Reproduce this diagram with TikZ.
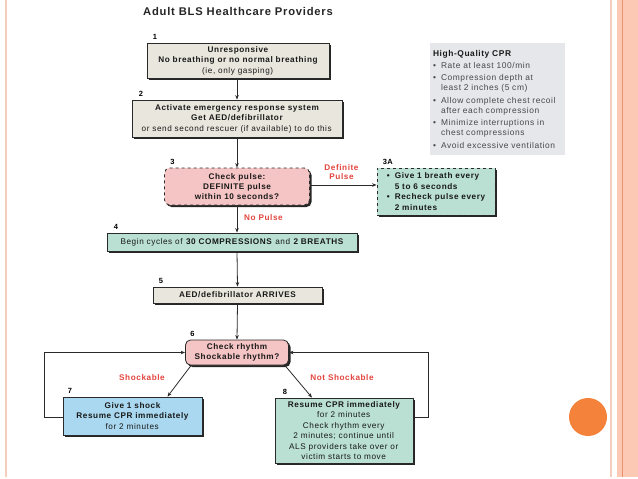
\documentclass[tikz,border=0pt]{standalone}
\usepackage{fontspec}
\setmainfont{Liberation Sans}[LetterSpace=7]
\usetikzlibrary{shadows,arrows.meta}
\definecolor{boxgray}{HTML}{E9E7DD}
\definecolor{boxpink}{HTML}{F5C4C4}
\definecolor{boxteal}{HTML}{B9E0D2}
\definecolor{boxblue}{HTML}{A9D8F0}
\definecolor{hqgray}{HTML}{E5E7EB}
\definecolor{labred}{HTML}{E2453E}
\definecolor{edgecol}{HTML}{2A2A2A}
\definecolor{paleline}{HTML}{F4CDBF}
\definecolor{salmon}{HTML}{FCC9B5}
\definecolor{salmonline}{HTML}{E8926E}
\definecolor{dotorange}{HTML}{F5823A}
\begin{document}
\begin{tikzpicture}[x=1pt,y=-1pt,
  base/.style={draw=edgecol, line width=0.8pt, align=center, inner sep=1pt,
    text=black!90, font=\fontsize{8.2}{10.4}\selectfont\bfseries,
    drop shadow={shadow xshift=2pt, shadow yshift=-2pt, fill=black, opacity=0.85}},
  gbox/.style={base, fill=boxgray},
  pbox/.style={base, fill=boxpink, rounded corners=5pt},
  tbox/.style={base, fill=boxteal},
  bbox/.style={base, fill=boxblue},
  numlab/.style={font=\fontsize{7.5}{9}\selectfont\bfseries, anchor=south west, inner sep=0pt},
  redlab/.style={text=labred, font=\fontsize{8.2}{9.8}\selectfont\bfseries, align=center, inner sep=0pt},
  conn/.style={draw=edgecol, line width=0.8pt, -{Stealth[length=4.5pt,width=3.5pt]}}
]
\useasboundingbox (0,0) rectangle (638,479);
% slide decorations
\fill[salmon] (617,0) rectangle (638,477);
\draw[salmonline, line width=0.8pt] (622,0) -- (622,477);
\draw[paleline, line width=1.6pt] (611,0) -- (611,477);
\draw[paleline, line width=1.6pt] (6,0) -- (6,477);
\fill[dotorange] (588,417) circle (19);
% title
\node[anchor=west, inner sep=0pt, font=\fontsize{11.2}{13}\selectfont\bfseries, text=black!85] (title) at (143,11) {Adult BLS Healthcare Providers};
% boxes
\node[gbox, minimum width=182pt, minimum height=35pt] (b1) at (238,60.5)
  {Unresponsive\\No breathing or no normal breathing\\\textmd{(ie, only gasping)}};
\node[gbox, minimum width=210pt, minimum height=37pt] (b2) at (237,118.5)
  {Activate emergency response system\\Get AED/defibrillator\\\textmd{or send second rescuer (if available) to do this}};
\node[pbox, dashed, minimum width=145pt, minimum height=37pt] (b3) at (237,186.5)
  {Check pulse:\\DEFINITE pulse\\within 10 seconds?};
\node[tbox, dashed, minimum width=118pt, minimum height=47pt, align=left] (b3a) at (436,191.5)
  {\makebox[8pt][l]{•}Give 1 breath every\\\hspace*{8pt}5 to 6 seconds\\\makebox[8pt][l]{•}Recheck pulse every\\\hspace*{8pt}2 minutes};
\node[tbox, minimum width=250pt, minimum height=18pt] (b4) at (232,242)
  {\textmd{Begin cycles of }30 COMPRESSIONS\textmd{ and }2 BREATHS};
\node[gbox, minimum width=169pt, minimum height=16pt] (b5) at (237.5,295)
  {AED/defibrillator ARRIVES};
\node[pbox, minimum width=103pt, minimum height=25pt] (b6) at (237,352.5)
  {Check rhythm\\Shockable rhythm?};
\node[bbox, minimum width=139pt, minimum height=38pt] (b7) at (132.5,416)
  {Give 1 shock\\Resume CPR immediately\\\textmd{for 2 minutes}};
\node[tbox, minimum width=138pt, minimum height=65pt] (b8) at (344,430.5)
  {Resume CPR immediately\\\textmd{for 2 minutes}\\\textmd{Check rhythm every}\\\textmd{2 minutes; continue until}\\\textmd{ALS providers take over or}\\\textmd{victim starts to move}};
% High-quality CPR panel
\node[fill=hqgray, minimum width=135pt, minimum height=112pt, text width=129pt, align=left, inner sep=3pt,
  font=\fontsize{8.4}{10}\selectfont, text=black!72] (hq) at (497.5,99)
  {\textcolor{black!90}{\bfseries High-Quality CPR}\\[2.4pt]
   \makebox[8pt][l]{•}Rate at least 100/min\\[2.4pt]
   \makebox[8pt][l]{•}Compression depth at\\\hspace*{8pt}least 2 inches (5 cm)\\[2.4pt]
   \makebox[8pt][l]{•}Allow complete chest recoil\\\hspace*{8pt}after each compression\\[2.4pt]
   \makebox[8pt][l]{•}Minimize interruptions in\\\hspace*{8pt}chest compressions\\[2.4pt]
   \makebox[8pt][l]{•}Avoid excessive ventilation};
% step numbers
\node[numlab] (n1) at ([xshift=6pt,yshift=2.5pt]b1.north west) {1};
\node[numlab] (n2) at ([xshift=7pt,yshift=2.5pt]b2.north west) {2};
\node[numlab] (n3) at ([xshift=6pt,yshift=2.5pt]b3.north west) {3};
\node[numlab] (n3a) at ([xshift=6pt,yshift=2.5pt]b3a.north west) {3A};
\node[numlab] (n4) at ([xshift=7pt,yshift=2.5pt]b4.north west) {4};
\node[numlab] (n5) at ([xshift=6pt,yshift=2.5pt]b5.north west) {5};
\node[numlab] (n6) at ([xshift=5pt,yshift=2.5pt]b6.north west) {6};
\node[numlab] (n7) at ([xshift=5pt,yshift=2.5pt]b7.north west) {7};
\node[numlab] (n8) at ([xshift=8pt,yshift=2.5pt]b8.north west) {8};
% connectors
\draw[conn] (b1.south -| b2) -- (b2.north);
\draw[conn] (b2.south) -- (b3.north);
\draw[conn] (b3.south) -- (b3.south |- b4.north);
\draw[conn] (b3.south |- b4.south) -- (b5.north);
\draw[conn] (b5.south) -- (b6.north);
\draw[conn] ([yshift=1.5pt]b3.east) -- ([yshift=1.5pt]b3.east -| b3a.west);
\draw[conn] ([xshift=6pt]b6.south west) -- ([xshift=35pt]b7.north);
\draw[conn] ([xshift=-4pt]b6.south east) -- ([xshift=-32pt]b8.north);
\draw[conn] ([yshift=-1pt]b7.west) -- ++(-18,0) |- (b6.west);
\draw[conn] ([yshift=13.5pt]b8.east) -- ++(15,0) |- (b6.east);
% branch labels
\node[redlab] (ldef) at (341.5,172) {Definite\\Pulse};
\node[redlab] (lnop) at (263.5,218) {No Pulse};
\node[redlab] (lsh) at (142,378) {Shockable};
\node[redlab] (lnsh) at (342,378) {Not Shockable};
\end{tikzpicture}
\end{document}
